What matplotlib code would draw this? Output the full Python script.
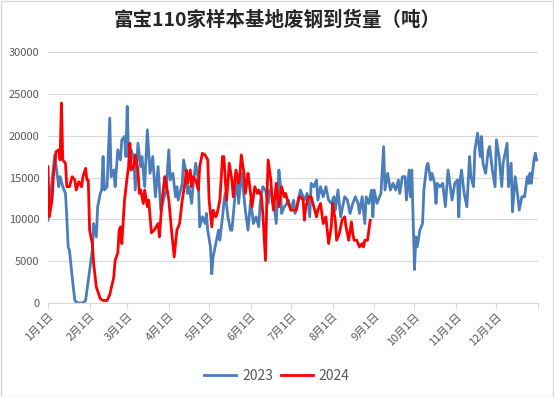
import matplotlib
matplotlib.use("Agg")
import matplotlib.pyplot as plt
from matplotlib.patches import Rectangle

plt.rcParams['font.family'] = ['Noto Sans CJK SC', 'DejaVu Sans']

title = "富宝110家样本基地废钢到货量（吨）"
month_start_days = [0, 31, 59, 90, 120, 151, 181, 212, 243, 273, 304, 334]
month_labels = [f"{m}月1日" for m in range(1, 13)]
yticks = [0, 5000, 10000, 15000, 20000, 25000, 30000]

days_2023 = [0, 5, 8, 9, 11, 13, 14, 15, 16, 18, 20, 22, 24, 26, 28, 29, 30, 33, 34, 35, 36, 37, 39, 40, 41, 42,
             44, 46, 47, 49, 50, 52, 54, 55, 57, 58, 59, 60, 62, 64, 65, 67, 69, 70, 72, 74, 76, 78, 80, 82, 84,
             86, 88, 90, 91, 93, 95, 96, 97, 100, 101, 103, 104, 105, 107, 108, 110, 112, 113, 115, 117, 118, 119,
             121, 122, 123, 125, 127, 128, 130, 131, 132, 134, 136, 137, 139, 141, 142, 144, 145, 147, 149, 151,
             153, 155, 157, 158, 160, 162, 164, 165, 168, 170, 172, 173, 174, 176, 178, 179, 181, 183, 184, 186,
             188, 190, 191, 193, 195, 196, 198, 200, 201, 203, 205, 207, 209, 211, 213, 214, 216, 218, 220, 221,
             223, 225, 227, 229, 231, 232, 234, 236, 237, 239, 241, 242, 243, 245, 247, 248, 250, 251, 253, 255,
             257, 259, 261, 262, 264, 266, 267, 269, 270, 271, 273, 274, 275, 277, 279, 280, 282, 283, 285, 286,
             288, 289, 290, 292, 294, 296, 298, 300, 301, 303, 305, 306, 307, 308, 310, 312, 314, 315, 317, 318,
             320, 322, 323, 324, 326, 328, 329, 331, 333, 334, 336, 338, 339, 341, 342, 343, 345, 346, 348, 350,
             351, 353, 355, 357, 358, 359, 360, 362, 363, 364]
vals_2023 = [9900, 17700, 13900, 15100, 13900, 13100, 10300, 6700, 6300, 3100, 300, 0, 0, 0, 300, 1500, 2700, 6300,
             9500, 8700, 7900, 11500, 13100, 13500, 17500, 13500, 13900, 22100, 15100, 15900, 13900, 18300, 17100,
             19500, 19900, 17500, 23500, 17500, 18300, 17100, 13500, 19100, 16300, 17500, 13900, 20700, 15500,
             17500, 12700, 16300, 11100, 12300, 13500, 18300, 14700, 15500, 12700, 13900, 12300, 14300, 17100,
             15500, 13100, 13900, 11900, 13900, 16700, 14700, 9100, 10300, 9500, 10700, 8700, 6700, 3500, 5500,
             7100, 8700, 7500, 10300, 11900, 13100, 10300, 8700, 8700, 12300, 15100, 11900, 15500, 14300, 11100,
             8700, 12300, 9500, 10300, 9100, 11900, 13900, 13500, 11900, 13500, 12300, 9500, 15900, 14300, 10700,
             11500, 11900, 12300, 11100, 12300, 10700, 11900, 13500, 12700, 12300, 13100, 10300, 14300, 13900,
             14700, 12300, 13900, 12700, 13900, 12300, 11900, 12700, 11100, 13500, 10300, 11900, 12700, 12300,
             10700, 11900, 12700, 11900, 10700, 12700, 9500, 12700, 11900, 13500, 10300, 13500, 11900, 12700,
             13100, 18700, 13500, 15500, 13500, 14300, 13500, 14700, 13100, 15100, 15100, 12300, 15900, 12700,
             15900, 4000, 7900, 6700, 8700, 9500, 13500, 16300, 16700, 14700, 15500, 14300, 11900, 14300, 13900,
             14300, 11500, 15900, 13500, 12300, 14300, 14700, 10300, 14700, 15900, 13100, 11500, 17500, 15100,
             13900, 18300, 20300, 17500, 19900, 16700, 15500, 18300, 18700, 15900, 13900, 19500, 17500, 13900,
             16700, 18300, 19100, 13900, 16700, 10900, 15100, 12700, 11100, 12700, 12700, 15100, 14300, 15500,
             14300, 17100, 17900, 17100]

days_2024 = [0, 1, 3, 4, 6, 8, 9, 10, 11, 13, 14, 16, 18, 20, 21, 23, 25, 26, 28, 29, 30, 31, 33, 34, 36, 39, 41,
             44, 46, 49, 50, 52, 53, 54, 55, 57, 59, 60, 61, 62, 64, 65, 67, 68, 69, 71, 72, 74, 75, 77, 79, 82,
             83, 85, 87, 88, 90, 92, 94, 96, 98, 100, 102, 103, 104, 106, 107, 108, 110, 112, 113, 115, 117, 119,
             120, 122, 123, 125, 126, 128, 130, 131, 133, 134, 135, 137, 138, 140, 142, 143, 144, 146, 147, 149,
             150, 152, 154, 156, 157, 159, 160, 162, 163, 164, 166, 167, 168, 170, 172, 173, 174, 176, 177, 179,
             181, 183, 185, 187, 188, 190, 191, 192, 194, 196, 198, 200, 201, 203, 205, 207, 209, 211, 212, 214,
             215, 217, 219, 221, 222, 224, 226, 227, 228, 230, 232, 234, 235, 236, 238, 239, 240]
vals_2024 = [16300, 10300, 12300, 15100, 18100, 18300, 17100, 23900, 17100, 16700, 13900, 13900, 15100, 14700,
             13500, 14500, 13900, 15100, 16100, 14700, 14700, 8700, 7100, 4700, 1900, 500, 300, 300, 1000, 3100,
             5100, 6000, 8700, 9100, 7100, 12300, 15100, 16300, 19100, 15900, 16300, 17700, 15900, 13100, 13500,
             11900, 13500, 11500, 12300, 8400, 8700, 9500, 7900, 12300, 15100, 14300, 12300, 8700, 5500, 8700,
             9500, 12300, 14300, 15900, 14300, 15900, 13900, 15100, 14700, 13500, 16300, 17900, 17700, 17100,
             12300, 9100, 11100, 10300, 10700, 12300, 17500, 17500, 12300, 14300, 16700, 14700, 12700, 15900,
             14300, 15500, 17700, 15500, 13100, 15500, 14300, 11500, 13900, 13100, 13500, 12700, 10700, 5100,
             12300, 17100, 14700, 12300, 11100, 14300, 11500, 12700, 13900, 12700, 13100, 11900, 11100, 11100,
             11100, 12700, 12700, 12300, 9900, 11500, 12700, 12700, 11500, 10300, 11100, 11900, 9500, 10300,
             7100, 9100, 11900, 9900, 7500, 8300, 9900, 10300, 9100, 7500, 9700, 8300, 7500, 7500, 6700, 7100,
             6700, 7500, 7500, 8700, 9900]

fig = plt.figure(figsize=(5.54, 3.97), dpi=100)
ax = fig.add_axes([48 / 554, 1 - 303 / 397, 490 / 554, 251 / 397])

ax.plot(days_2023, vals_2023, color='#4a7ebb', lw=2.0, label='2023', solid_joinstyle='round')
ax.plot(days_2024, vals_2024, color='#ff0000', lw=2.0, label='2024', solid_joinstyle='round')

ax.set_xlim(0, 365)
ax.set_ylim(0, 30000)
ax.set_yticks(yticks)
ax.set_yticklabels([str(v) for v in yticks])
ax.set_xticks(month_start_days + [365])
ax.set_xticklabels(month_labels + [""], rotation=45, ha='right', va='top', rotation_mode='anchor')
ax.tick_params(axis='x', colors='#595959', labelsize=8, length=4, width=0.8, color='#d9d9d9', pad=2)
ax.tick_params(axis='y', colors='#595959', labelsize=8, length=0, pad=6)

ax.grid(axis='y', color='#d9d9d9', lw=0.8)
ax.set_axisbelow(True)
for s in ['top', 'right', 'left']:
    ax.spines[s].set_visible(False)
ax.spines['bottom'].set_color('#d9d9d9')
ax.spines['bottom'].set_linewidth(0.8)

fig.text(0.5, 1 - 20 / 397, title, ha='center', va='center', fontsize=14, fontweight='bold', color='#262626')

fig.legend(loc='center', bbox_to_anchor=(0.5, 1 - 376 / 397), ncol=2, frameon=False, fontsize=10,
           handlelength=2.3, columnspacing=0.6, handletextpad=0.4, labelcolor='#595959')

fig.add_artist(Rectangle((0.5 / 554, 0.5 / 397), 1 - 1.5 / 554, 1 - 1.5 / 397, transform=fig.transFigure,
                         fill=False, edgecolor='#d9d9d9', lw=1))

fig.savefig('out.png', dpi=100, facecolor='white')
